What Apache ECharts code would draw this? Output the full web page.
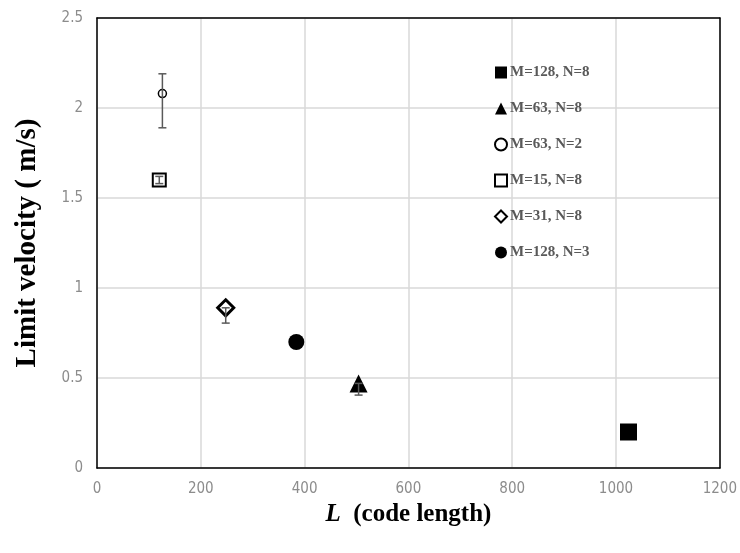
<!DOCTYPE html>
<html>
<head>
<meta charset="utf-8">
<script src="https://cdn.jsdelivr.net/npm/echarts@6/dist/echarts.min.js"></script>
<style>
  html, body { margin: 0; padding: 0; background: #fff; }
  #chart { width: 740px; height: 553px; }
</style>
</head>
<body>
<div id="chart"></div>
<script>
// Series names (legend order)
const seriesNames = ['M=128, N=8', 'M=63, N=8', 'M=63, N=2', 'M=15, N=8', 'M=31, N=8', 'M=128, N=3'];
// Code length L for each configuration
const codeLength = [1024, 504, 126, 120, 248, 384];
// Limit velocity (m/s)
const limitVelocity = [0.20, 0.47, 2.08, 1.60, 0.89, 0.70];
// Error bar extents (lower, upper)
const errLow = [0.20, 0.405, 1.89, 1.58, 0.805, 0.70];
const errHigh = [0.20, 0.47, 2.19, 1.62, 0.89, 0.70];
// Axis ticks
const xTicks = [0, 200, 400, 600, 800, 1000, 1200];
const yTicks = [0, 0.5, 1, 1.5, 2, 2.5];

const serifFont = 'Liberation Serif, Times New Roman, serif';
const tickFont = 'DejaVu Sans Condensed, sans-serif';

const markerStyles = [
  { symbol: 'rect', size: 17, filled: true, border: 0 },
  { symbol: 'triangle', size: 18, filled: true, border: 0 },
  { symbol: 'circle', size: 8, filled: false, border: 1.5 },
  { symbol: 'rect', size: 13, filled: false, border: 2 },
  { symbol: 'diamond', size: 16, filled: false, border: 3 },
  { symbol: 'circle', size: 16, filled: true, border: 0 }
];

const pointSeries = seriesNames.map((name, i) => {
  const m = markerStyles[i];
  return {
    name: name,
    type: 'scatter',
    symbol: m.symbol,
    symbolSize: m.size,
    data: [[codeLength[i], limitVelocity[i]]],
    itemStyle: m.filled
      ? { color: '#000', opacity: 1 }
      : { color: '#fff', borderColor: '#000', borderWidth: m.border, opacity: 1 },
    z: 3
  };
});

const errorData = codeLength.map((x, i) => [x, errLow[i], errHigh[i]]);

const errorSeries = {
  type: 'custom',
  name: 'error',
  data: errorData,
  z: 5,
  silent: true,
  renderItem: function (params, api) {
    const x = api.value(0);
    const lo = api.coord([x, api.value(1)]);
    const hi = api.coord([x, api.value(2)]);
    if (Math.abs(lo[1] - hi[1]) < 0.5) return null;
    const hw = 4;
    const style = { stroke: '#595959', lineWidth: 1.5 };
    return {
      type: 'group',
      children: [
        { type: 'line', shape: { x1: lo[0], y1: lo[1], x2: hi[0], y2: hi[1] }, style: style },
        { type: 'line', shape: { x1: lo[0] - hw, y1: lo[1], x2: lo[0] + hw, y2: lo[1] }, style: style },
        { type: 'line', shape: { x1: hi[0] - hw, y1: hi[1], x2: hi[0] + hw, y2: hi[1] }, style: style }
      ]
    };
  },
  encode: { x: 0, y: [1, 2] }
};

const frameLine = { show: true, onZero: false, lineStyle: { color: '#000', width: 1.5 } };
const tickLabel = { color: '#8c8c8c', fontSize: 15, fontFamily: tickFont, margin: 14, formatter: v => String(v) };

const chart = echarts.init(document.getElementById('chart'), null, { renderer: 'canvas' });

chart.setOption({
  backgroundColor: '#fff',
  animation: false,
  grid: { left: 97, top: 18, right: 19, bottom: 85 },
  legend: {
    data: seriesNames,
    orient: 'vertical',
    left: 489,
    top: 60,
    itemGap: 21,
    itemWidth: 12,
    itemHeight: 12,
    textStyle: {
      fontFamily: serifFont,
      fontWeight: 'bold',
      fontSize: 15,
      color: '#595959',
      padding: [0, 0, 0, -2]
    }
  },
  xAxis: [{
    type: 'value',
    min: xTicks[0],
    max: xTicks[xTicks.length - 1],
    interval: 200,
    name: '{i|L}  (code length)',
    nameLocation: 'middle',
    nameGap: 34,
    nameTextStyle: {
      fontFamily: serifFont,
      fontWeight: 'bold',
      fontSize: 25,
      color: '#000',
      rich: {
        i: { fontFamily: serifFont, fontStyle: 'italic', fontWeight: 'bold', fontSize: 25, color: '#000' }
      }
    },
    axisLine: frameLine,
    axisTick: { show: false },
    axisLabel: tickLabel,
    splitLine: { show: true, lineStyle: { color: '#d9d9d9', width: 1.5 } },
    z: 1
  }, {
    type: 'value',
    position: 'top',
    min: xTicks[0],
    max: xTicks[xTicks.length - 1],
    interval: 200,
    axisLine: frameLine,
    axisTick: { show: false },
    axisLabel: { show: false },
    splitLine: { show: false },
    z: 1
  }],
  yAxis: [{
    type: 'value',
    min: yTicks[0],
    max: yTicks[yTicks.length - 1],
    interval: 0.5,
    name: 'Limit velocity ( m/s)',
    nameLocation: 'middle',
    nameGap: 55,
    nameRotate: 90,
    nameTextStyle: {
      fontFamily: serifFont,
      fontWeight: 'bold',
      fontSize: 29,
      color: '#000'
    },
    axisLine: frameLine,
    axisTick: { show: false },
    axisLabel: tickLabel,
    splitLine: { show: true, lineStyle: { color: '#d9d9d9', width: 1.5 } },
    z: 1
  }, {
    type: 'value',
    position: 'right',
    min: yTicks[0],
    max: yTicks[yTicks.length - 1],
    interval: 0.5,
    axisLine: frameLine,
    axisTick: { show: false },
    axisLabel: { show: false },
    splitLine: { show: false },
    z: 1
  }],
  series: pointSeries.concat([errorSeries])
});
</script>
</body>
</html>
